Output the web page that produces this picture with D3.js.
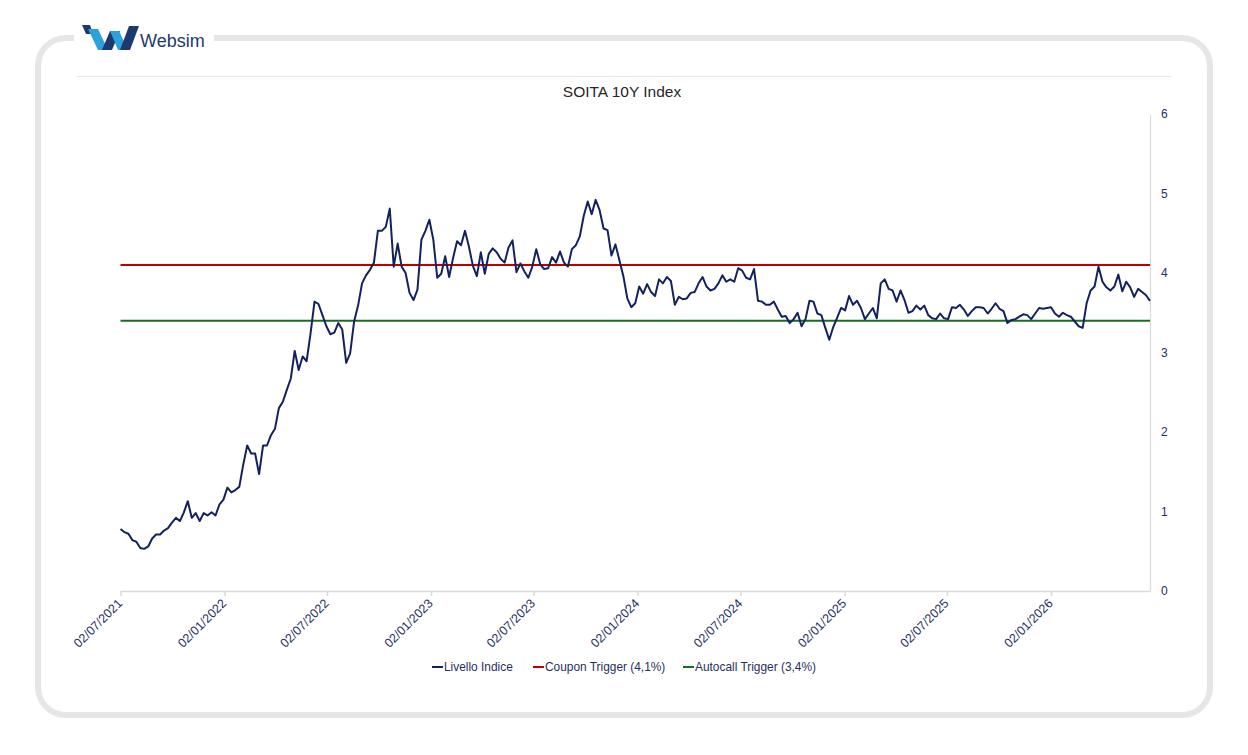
<!DOCTYPE html>
<html>
<head>
<meta charset="utf-8">
<script src="https://cdn.jsdelivr.net/npm/d3@7"></script>
<style>
  html, body { margin: 0; padding: 0; background: #ffffff; }
  svg { display: block; }
  text { font-family: "Liberation Sans", Arial, sans-serif; }
</style>
</head>
<body>
<script>
// ---------------- data ----------------
const startDate = "02/07/2021";           // first weekly observation
const stepDays = 7;                        // weekly series
const livelloIndice = [
0.78,0.74,0.72,0.64,0.62,0.54,0.53,0.56,0.66,0.71,
0.71,0.76,0.79,0.86,0.92,0.88,0.99,1.13,0.92,0.98,
0.88,0.98,0.95,0.99,0.95,1.09,1.15,1.30,1.24,1.27,
1.31,1.59,1.83,1.73,1.73,1.47,1.83,1.83,1.96,2.04,
2.30,2.38,2.53,2.67,3.02,2.78,2.95,2.89,3.24,3.64,
3.61,3.47,3.33,3.23,3.25,3.37,3.29,2.87,2.99,3.39,
3.59,3.87,3.97,4.04,
4.13,4.53,4.53,4.58,4.81,4.08,4.37,4.08,4.00,3.75,
3.66,3.79,4.42,4.53,4.67,4.42,3.94,3.99,4.21,3.95,
4.19,4.40,4.35,4.53,4.33,4.09,3.96,4.26,3.99,4.24,
4.31,4.26,4.18,4.13,4.32,4.41,4.01,4.12,4.02,3.94,
4.08,4.30,4.11,4.05,4.06,4.20,4.13,4.27,4.13,4.08,
4.30,4.35,4.46,4.72,4.90,4.74,4.92,4.79,4.56,4.54,
4.22,4.36,4.16,3.96,3.68,3.57,3.62,3.83,
3.74,3.86,3.76,3.71,3.92,3.87,3.95,3.90,3.60,3.70,
3.67,3.68,3.75,3.76,3.87,3.95,3.83,3.78,3.80,3.87,
3.97,3.89,3.92,3.89,4.06,4.03,3.94,3.92,4.05,3.65,
3.64,3.60,3.60,3.64,3.54,3.45,3.46,3.37,3.42,3.50,
3.33,3.42,3.65,3.64,3.49,3.47,3.31,3.16,3.32,3.44,
3.56,3.53,3.71,3.60,3.65,3.56,3.42,3.49,3.56,3.43,
3.87,3.92,3.80,3.78,3.64,3.78,3.66,3.50,3.52,3.59,
3.54,3.59,3.47,3.43,3.42,3.49,3.43,3.42,3.57,3.56,
3.60,3.54,3.46,3.52,3.57,3.57,3.56,3.49,3.55,3.62,
3.55,3.52,3.37,3.41,3.42,3.45,3.48,3.47,3.42,3.49,
3.56,3.55,3.56,3.57,3.49,3.45,3.50,3.47,3.45,3.39,
3.33,3.31,3.62,3.78,3.83,4.08,3.89,3.82,3.78,3.83,
3.98,3.77,3.89,3.82,3.70,3.80,3.76,3.72,3.65
];
const couponTrigger = 4.1;
const autocallTrigger = 3.4;
const xTickLabels = ["02/07/2021","02/01/2022","02/07/2022","02/01/2023","02/07/2023",
                     "02/01/2024","02/07/2024","02/01/2025","02/07/2025","02/01/2026"];
const yTicks = [0,1,2,3,4,5,6];
const seriesNames = ["Livello Indice","Coupon Trigger (4,1%)","Autocall Trigger (3,4%)"];
const seriesColors = ["#13225e","#c00000","#1b6b22"];
const chartTitle = "SOITA 10Y Index";
const brandName = "Websim";

// ---------------- chart ----------------
const W = 1248, H = 755;
const parse = d3.timeParse("%d/%m/%Y");
const fmt = d3.timeFormat("%d/%m/%Y");
const t0 = parse(startDate);
const data = livelloIndice.map((v, i) => ({ date: d3.timeDay.offset(t0, i * stepDays), value: v }));

const svg = d3.select("body").append("svg").attr("width", W).attr("height", H);

// outer rounded frame
svg.append("rect")
  .attr("x", 38).attr("y", 38).attr("width", 1172).attr("height", 677)
  .attr("rx", 28).attr("ry", 28)
  .attr("fill", "none").attr("stroke", "#e6e6e6").attr("stroke-width", 6);

// gap for the logo
svg.append("rect").attr("x", 74).attr("y", 30).attr("width", 140).attr("height", 16).attr("fill", "#ffffff");

// logo
const logo = svg.append("g");
const navy = "#1c3a6d", light = "#2aa2dc";
const shapes = [
  { c: navy,  p: [[82,25],[90,25],[93,34],[86,34]] },
  { c: light, p: [[88,29],[98,29],[108,50],[98,50]] },
  { c: navy,  p: [[102,50],[112,50],[120,31],[110,31]] },
  { c: light, p: [[110,31],[119,31],[128,50],[118,50]] },
  { c: navy,  p: [[120,50],[130,50],[139,26],[129,26]] }
];
shapes.forEach(s => logo.append("polygon").attr("points", s.p.map(d => d.join(",")).join(" ")).attr("fill", s.c));
logo.append("text").attr("x", 140).attr("y", 46.5).attr("font-size", 18).attr("fill", navy)
  .attr("font-weight", 500).text(brandName);

// separator line under logo
svg.append("line").attr("x1", 76).attr("x2", 1172).attr("y1", 76.5).attr("y2", 76.5)
  .attr("stroke", "#e8e8e8").attr("stroke-width", 1);

// title
svg.append("text").attr("x", 622).attr("y", 97).attr("text-anchor", "middle")
  .attr("font-size", 15.5).attr("fill", "#262626").text(chartTitle);

// scales
const x = d3.scaleTime().domain(d3.extent(data, d => d.date)).range([120.5, 1150]);
const y = d3.scaleLinear().domain([0, 6]).range([591, 114]);

const labelColor = "#1f2f5f";

// x axis
const xAxis = svg.append("g").attr("transform", "translate(0,591)")
  .call(d3.axisBottom(x).tickValues(xTickLabels.map(parse)).tickFormat(fmt).tickSizeInner(5).tickSizeOuter(0));
xAxis.select(".domain").attr("stroke", "#d9d9d9").attr("stroke-width", 1.5);
xAxis.selectAll(".tick line").attr("stroke", "#d9d9d9").attr("stroke-width", 1.5);
xAxis.selectAll(".tick text")
  .attr("font-size", 12.5).attr("fill", labelColor)
  .attr("text-anchor", "end")
  .attr("transform", "translate(-1,10) rotate(-45)")
  .attr("x", 0).attr("y", 0).attr("dy", "0.35em");

// y axis (right)
const yAxis = svg.append("g").attr("transform", "translate(1150,0)")
  .call(d3.axisRight(y).tickValues(yTicks).tickFormat(d3.format("d")).tickSize(0).tickPadding(11));
yAxis.select(".domain").attr("stroke", "#d9d9d9").attr("stroke-width", 1.2);
yAxis.selectAll(".tick text").attr("font-size", 12).attr("fill", labelColor);

// trigger lines
const [d0, d1] = x.domain();
[[couponTrigger, seriesColors[1]], [autocallTrigger, seriesColors[2]]].forEach(([v, c]) => {
  svg.append("path")
    .attr("d", d3.line().x(d => x(d)).y(() => y(v))([d0, d1]))
    .attr("stroke", c).attr("stroke-width", 2).attr("fill", "none");
});

// index line
svg.append("path").datum(data)
  .attr("d", d3.line().x(d => x(d.date)).y(d => y(d.value)))
  .attr("fill", "none").attr("stroke", seriesColors[0]).attr("stroke-width", 2)
  .attr("stroke-linejoin", "round");

// legend
const legendX = [432, 533, 683];
const leg = svg.append("g").attr("transform", "translate(0,667)");
seriesNames.forEach((n, i) => {
  const g = leg.append("g").attr("transform", `translate(${legendX[i]},0)`);
  g.append("line").attr("x1", 0).attr("x2", 11).attr("y1", 0).attr("y2", 0)
    .attr("stroke", seriesColors[i]).attr("stroke-width", 2);
  g.append("text").attr("x", 12).attr("y", 0).attr("dy", "0.35em")
    .attr("font-size", 11.9).attr("fill", labelColor).text(n);
});
</script>
</body>
</html>
